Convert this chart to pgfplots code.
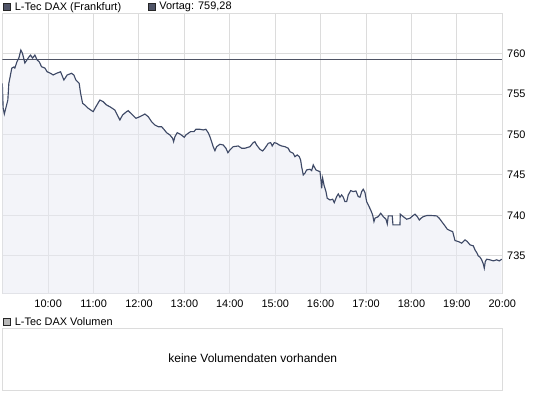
\documentclass[border=0pt]{standalone}
\usepackage{fontspec}
\setmainfont{Liberation Sans}
\usepackage{pgfplots}
\usepackage{pgfplotstable}
\pgfplotsset{compat=1.18}
\definecolor{gridc}{HTML}{DCDCDC}
\definecolor{linec}{HTML}{3E4966}
\definecolor{fillc}{HTML}{E8EAF4}
\definecolor{prevc}{HTML}{4E5364}
\definecolor{sq}{HTML}{4F5467}
\definecolor{sqg}{HTML}{B8B8B8}
\pgfplotstableread{
h v
8.99 756.32
9.009 753.27
9.035 752.53
9.068 753.27
9.112 754.26
9.134 756.32
9.200 758.21
9.244 758.33
9.266 758.21
9.310 758.95
9.354 759.44
9.399 760.43
9.432 760.06
9.487 758.83
9.575 759.57
9.612 759.81
9.656 759.44
9.707 759.81
9.758 759.20
9.802 758.99
9.855 758.37
9.927 758.21
9.978 757.75
10.053 757.56
10.110 757.35
10.185 757.56
10.273 757.75
10.317 757.14
10.346 756.73
10.418 757.35
10.515 757.56
10.566 757.35
10.610 756.73
10.683 756.32
10.714 755.09
10.758 753.85
10.808 753.64
10.881 753.24
10.991 752.82
11.051 753.43
11.139 754.26
11.211 754.05
11.286 753.64
11.359 753.43
11.469 753.02
11.542 752.20
11.579 751.79
11.639 752.41
11.727 752.82
11.762 752.94
11.837 752.53
11.932 752.00
12.020 752.20
12.092 752.41
12.130 752.53
12.203 752.20
12.277 751.58
12.350 751.17
12.423 750.96
12.498 750.96
12.548 750.64
12.608 750.22
12.681 749.94
12.740 749.53
12.762 749.11
12.791 749.73
12.841 750.22
12.901 750.06
12.960 749.82
12.996 749.65
13.033 749.94
13.084 750.15
13.136 750.35
13.209 750.35
13.253 750.64
13.341 750.64
13.414 750.56
13.473 750.64
13.524 750.22
13.562 749.73
13.599 749.11
13.634 748.49
13.672 748.00
13.709 748.49
13.782 748.79
13.855 748.70
13.914 748.30
13.958 747.75
14.002 748.09
14.075 748.49
14.185 748.58
14.260 748.30
14.333 748.30
14.443 748.49
14.515 748.99
14.553 749.11
14.590 748.70
14.663 748.17
14.722 747.96
14.773 748.30
14.846 748.91
14.899 748.99
14.934 748.58
14.978 748.99
15.031 748.91
15.088 748.70
15.141 748.58
15.214 748.49
15.286 748.30
15.324 747.88
15.396 747.68
15.434 747.26
15.485 747.47
15.529 747.26
15.559 746.85
15.581 746.03
15.617 745.00
15.654 745.21
15.692 745.62
15.764 745.70
15.802 745.53
15.837 746.24
15.896 745.62
15.947 745.49
15.985 745.41
16.007 744.38
16.022 743.36
16.044 744.59
16.073 743.77
16.117 742.94
16.145 742.12
16.205 741.91
16.264 742.00
16.300 741.58
16.352 742.32
16.388 742.65
16.425 742.25
16.462 742.53
16.498 742.25
16.535 741.70
16.573 741.70
16.608 742.53
16.661 743.06
16.718 742.94
16.777 743.02
16.828 742.32
16.866 742.25
16.903 742.94
16.938 743.23
16.976 742.82
17.013 741.70
17.048 741.30
17.101 740.68
17.145 740.06
17.174 739.24
17.196 739.65
17.269 739.85
17.322 740.27
17.379 739.85
17.438 739.53
17.467 738.95
17.489 739.94
17.577 739.94
17.592 738.83
17.747 738.83
17.753 740.15
17.819 739.85
17.894 739.53
17.967 739.65
18.026 739.94
18.077 740.15
18.128 739.85
18.172 739.44
18.209 739.65
18.260 739.85
18.335 739.98
18.445 739.98
18.555 739.94
18.612 739.65
18.665 739.24
18.738 738.70
18.788 738.30
18.848 738.12
18.907 738.00
18.936 737.38
18.958 736.89
19.031 736.77
19.106 736.57
19.178 736.98
19.229 736.77
19.288 736.36
19.361 736.24
19.399 735.74
19.436 735.41
19.471 735.00
19.509 734.84
19.546 734.51
19.581 734.01
19.603 733.48
19.625 734.30
19.656 734.59
19.729 734.51
19.802 734.38
19.877 734.51
19.934 734.38
19.987 734.59
}\pricedata
\begin{document}
\begin{tikzpicture}[font=\fontsize{8.2pt}{9.8pt}\selectfont]
\path[use as bounding box] (0,0) rectangle (408.75pt,-296.25pt);
% header legend
\draw[fill=sq, draw=black!85, line width=0.6pt] (2.3pt,-2.3pt) rectangle (8.1pt,-8.1pt);
\node[anchor=west, inner sep=0pt] at (10.95pt,-5.4pt) {L-Tec DAX (Frankfurt)};
\draw[fill=sq, draw=black!85, line width=0.6pt] (111pt,-2.3pt) rectangle (116.8pt,-8.1pt);
\node[anchor=west, inner sep=0pt] at (119.4pt,-5.4pt) {Vortag: 759,28};
\begin{axis}[
  at={(1.725pt,-10.425pt)}, anchor=north west,
  scale only axis, width=375pt, height=210pt,
  xmin=8.99, xmax=20, ymin=730.3, ymax=764.9,
  xtick={10,11,12,13,14,15,16,17,18,19,20},
  xticklabels={10:00,11:00,12:00,13:00,14:00,15:00,16:00,17:00,18:00,19:00,20:00},
  ytick={735,740,745,750,755,760},
  yticklabel pos=right,
  /pgf/number format/assume math mode=true,
  grid=major,
  major grid style={draw=gridc, line width=0.75pt},
  axis line style={draw=gridc, line width=0.75pt},
  tick style={draw=none},
  yticklabel style={anchor=west, inner sep=0pt, xshift=3.5pt},
  xticklabel style={anchor=north, inner sep=0pt, yshift=-4.6pt},
  ticklabel style={font=\fontsize{8.2pt}{9.8pt}\selectfont},
]
\addplot[draw=none, fill=fillc, fill opacity=0.5] table[x=h, y=v] {\pricedata} \closedcycle;
\addplot[prevc, line width=0.8pt] coordinates {(8.99,759.28) (20,759.28)};
\addplot[linec, line width=0.85pt] table[x=h, y=v] {\pricedata};
\end{axis}
% volume panel
\draw[fill=sqg, draw=black!85, line width=0.6pt] (2.3pt,-238.8pt) rectangle (8.1pt,-244.2pt);
\node[anchor=west, inner sep=0pt] at (10.95pt,-241.1pt) {L-Tec DAX Volumen};
\draw[draw=gridc, line width=0.75pt] (2.1pt,-246pt) rectangle (377pt,-292.9pt);
\node[font=\fontsize{9pt}{11pt}\selectfont] at (189.6pt,-268.6pt) {keine Volumendaten vorhanden};
\end{tikzpicture}
\end{document}
